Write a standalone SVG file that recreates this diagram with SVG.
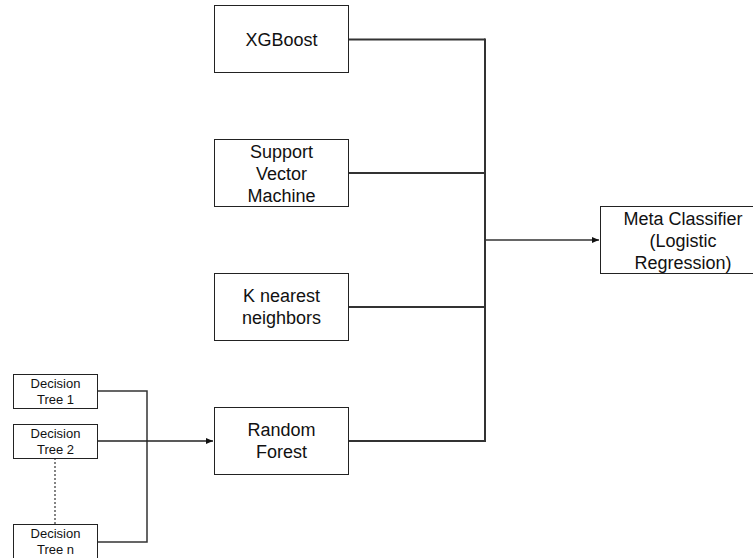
<svg xmlns="http://www.w3.org/2000/svg" width="753" height="558" viewBox="0 0 753 558">
<style>
.box{fill:#fff;stroke:#222;stroke-width:1}
.t{font-family:"Liberation Sans",Arial,sans-serif;font-size:18px;fill:#111;text-anchor:middle}
.s{font-family:"Liberation Sans",Arial,sans-serif;font-size:13px;fill:#111;text-anchor:middle}
.c{fill:none;stroke:#333;stroke-width:2}
.d{fill:none;stroke:#333;stroke-width:1.2;stroke-dasharray:2 2}
</style>
<defs>
<marker id="ah" markerWidth="8" markerHeight="8" refX="7" refY="4" orient="auto" markerUnits="userSpaceOnUse">
<path d="M0,1 L7,4 L0,7 Z" fill="#111"/>
</marker>
</defs>
<rect width="753" height="558" fill="#fff"/>
<g id="connectors">
<path class="c" d="M348,39.5 H485"/>
<path class="c" d="M348,173 H485"/>
<path class="c" d="M348,307 H485"/>
<path class="c" d="M348,441 H485"/>
<path class="c" d="M485,38.5 V442"/>
<path class="c" d="M485,240 H599" marker-end="url(#ah)" style="stroke-width:1.5"/>
<path class="c" d="M97,391 H147 V542 H97" style="stroke-width:1.5"/>
<path class="c" d="M97,441 H213" marker-end="url(#ah)" style="stroke-width:1.5;stroke:#222"/>
<path class="d" d="M55,458 V524"/>
</g>
<g id="xgboost"><rect class="box" x="214.5" y="5.5" width="134" height="67"/><text class="t" x="281.5" y="45.5">XGBoost</text></g>
<g id="svm"><rect class="box" x="214.5" y="139.5" width="134" height="67"/><text class="t" x="281.5" y="157.5">Support</text><text class="t" x="281.5" y="179.5">Vector</text><text class="t" x="281.5" y="201.5">Machine</text></g>
<g id="knn"><rect class="box" x="214.5" y="273.5" width="134" height="67"/><text class="t" x="281.5" y="302">K nearest</text><text class="t" x="281.5" y="324">neighbors</text></g>
<g id="rf"><rect class="box" x="214.5" y="407.5" width="134" height="67"/><text class="t" x="281.5" y="436">Random</text><text class="t" x="281.5" y="458">Forest</text></g>
<g id="meta"><rect class="box" x="600.5" y="206.5" width="170" height="67"/><text class="t" x="683" y="224.5">Meta Classifier</text><text class="t" x="683" y="246.5">(Logistic</text><text class="t" x="683" y="268.5">Regression)</text></g>
<g id="dt1"><rect class="box" x="13.5" y="374.5" width="84" height="34"/><text class="s" x="55.5" y="388">Decision</text><text class="s" x="55.5" y="404">Tree 1</text></g>
<g id="dt2"><rect class="box" x="13.5" y="424.5" width="84" height="34"/><text class="s" x="55.5" y="438">Decision</text><text class="s" x="55.5" y="454">Tree 2</text></g>
<g id="dtn"><rect class="box" x="13.5" y="524.5" width="84" height="40"/><text class="s" x="55.5" y="538">Decision</text><text class="s" x="55.5" y="554">Tree n</text></g>
</svg>
